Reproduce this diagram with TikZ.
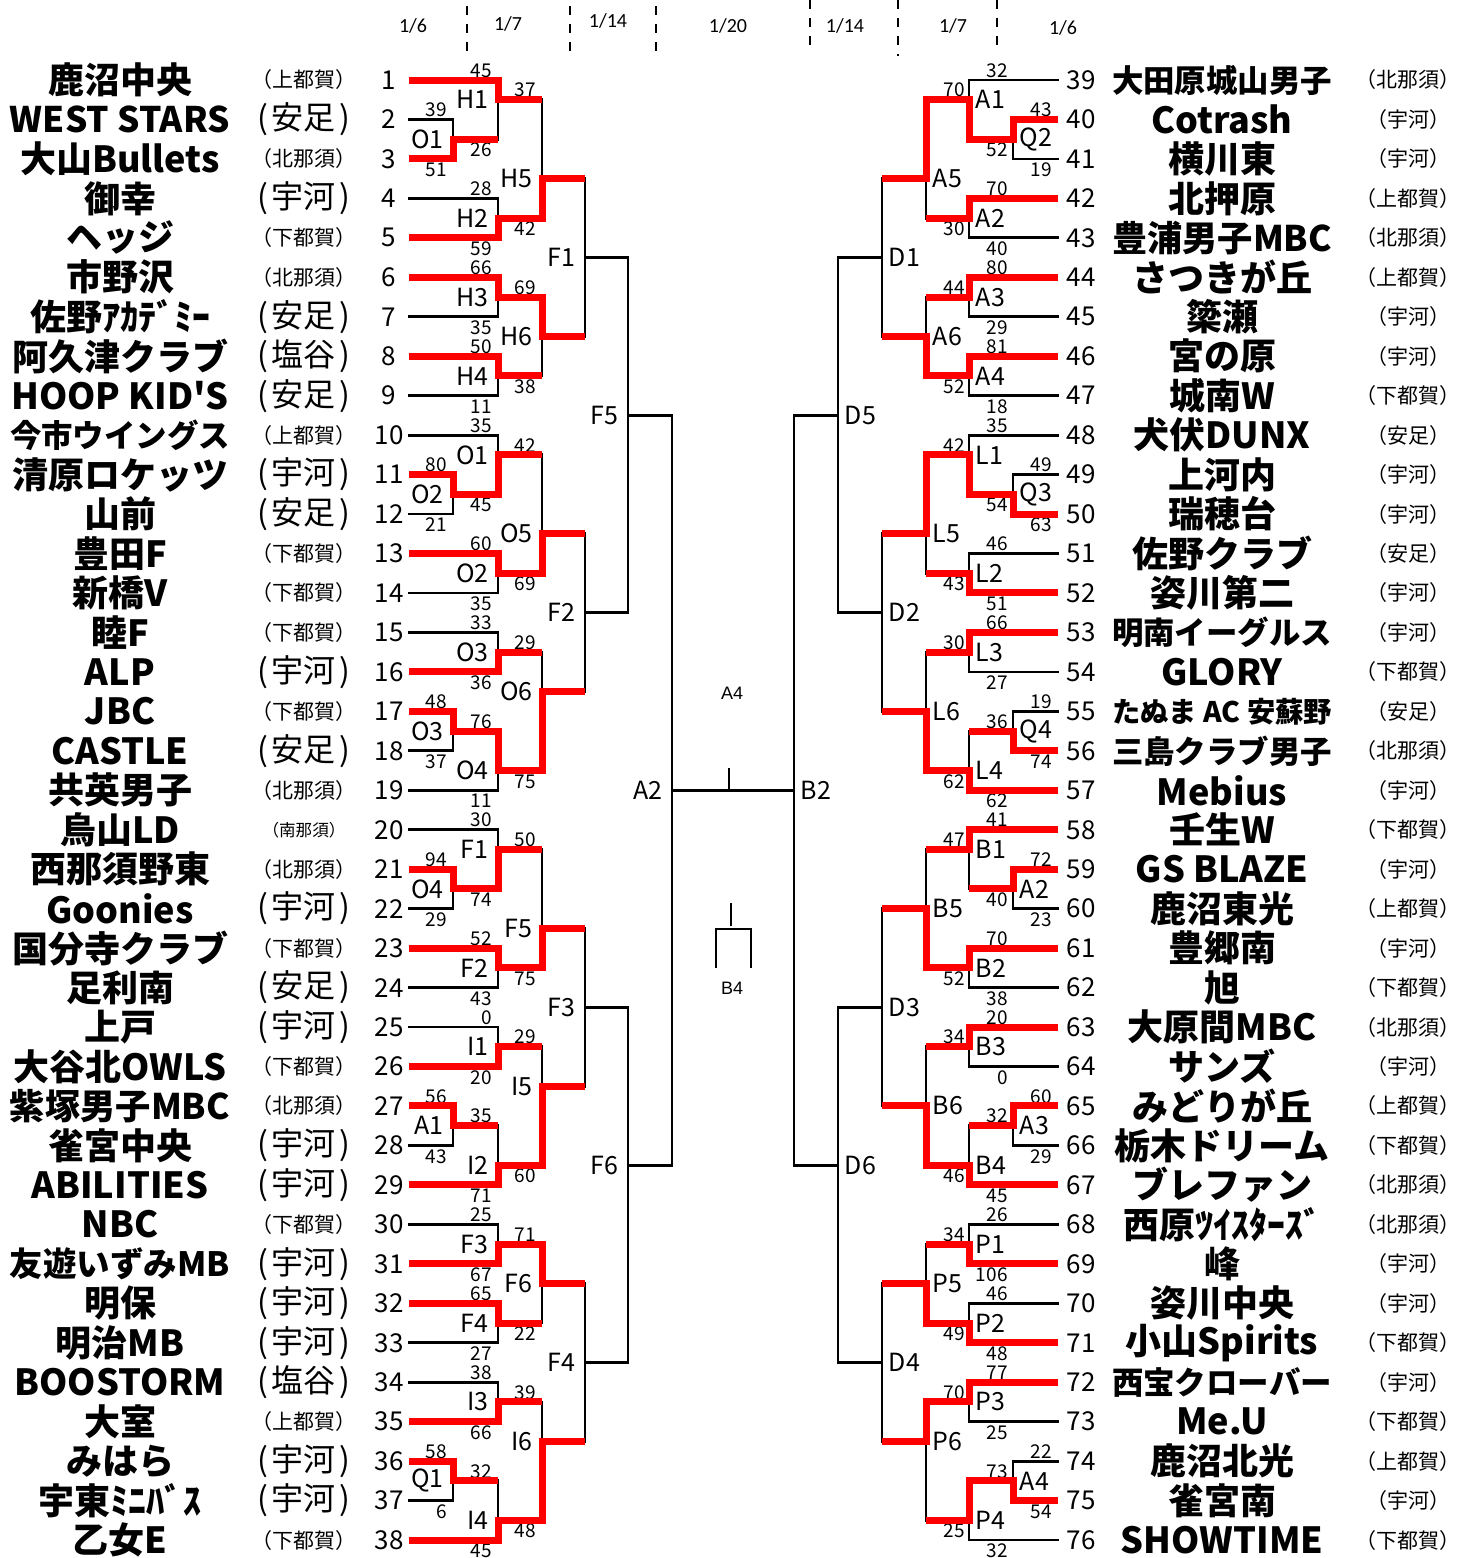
\documentclass[tikz,border=0pt]{standalone}
\usepackage{fontspec}
\usepackage{graphicx}
\setmainfont{Noto Sans CJK JP}[Ligatures=TeXOff]
\newfontfamily\hdrfont{Carlito}
\newfontfamily\arialfont{Liberation Sans}

\pgfdeclarelayer{win}
\pgfsetlayers{main,win}

\tikzset{
	bline/.style={line width=1.4pt, line cap=rect},
	winline/.style={line width=3.5pt, red, line join=miter},
	tname/.style={font=\bfseries\fontsize{18}{18}\selectfont, inner sep=0pt},
	rsmall/.style={font=\fontsize{10.5}{10.5}\selectfont, inner sep=0pt},
	rlarge/.style={font=\fontsize{16}{16}\selectfont, inner sep=0pt},
	rtiny/.style={font=\fontsize{8.3}{8.3}\selectfont, inner sep=0pt},
	tnum/.style={font=\fontsize{13}{13}\selectfont, inner sep=0pt},
	mlab/.style={font=\fontsize{12.5}{12.5}\selectfont, inner sep=0pt},
	score/.style={font=\fontsize{9.5}{9.5}\selectfont, inner sep=0pt},
	hdr/.style={font=\hdrfont\fontsize{10}{10}\selectfont, inner sep=0pt},
	clab/.style={font=\arialfont\fontsize{9}{9}\selectfont, inner sep=0pt},
	stage/.style={line width=1pt, dash pattern=on 4.5pt off 4.5pt},
	tickline/.style={line width=0.7pt},
}

\newsavebox\namebox
\newcommand{\fitname}[1]{\sbox\namebox{#1}\ifdim\wd\namebox>110pt\resizebox{110pt}{!}{\usebox\namebox}\else\usebox\namebox\fi}
\newcommand{\pl}[1]{(\kern.12em#1\kern.12em)}

% left team: number, name, region, region style, end x, w/l
\newcommand{\LT}[6]{
	\node[tname] (n#1) at (120,{2*(#1-1)}) {\fitname{#2}};
	\node[#4] (r#1) at (304,{2*(#1-1)}) {#3};
	\node[tnum] (k#1) at (389,{2*(#1-1)}) {#1};
	\coordinate (s#1) at (409,{2*(#1-1)});
	\coordinate (e#1) at (#5,{2*(#1-1)});
	\if#6w\begin{pgfonlayer}{win}\draw[winline] (s#1) -- (e#1);\end{pgfonlayer}\else\draw[bline] (s#1) -- (e#1);\fi
}
% right team: number, name, region, start x, w/l
\newcommand{\RT}[5]{
	\node[tname] (n#1) at (1222,{2*(#1-39)}) {\fitname{#2}};
	\node[rsmall] (r#1) at (1408,{2*(#1-39)}) {#3};
	\node[tnum] (k#1) at (1081,{2*(#1-39)}) {#1};
	\coordinate (s#1) at (#4,{2*(#1-39)});
	\coordinate (e#1) at (1058,{2*(#1-39)});
	\if#5w\begin{pgfonlayer}{win}\draw[winline] (s#1) -- (e#1);\end{pgfonlayer}\else\draw[bline] (s#1) -- (e#1);\fi
}
% match: label, v, v2, top, bottom, out, winner t/b/n, top score, bottom score
\newcommand{\ML}[9]{
	\coordinate (mt-#2-#6) at (#2,#4);
	\coordinate (mb-#2-#6) at (#2,#5);
	\coordinate (mo-#2-#6) at (#2,#6);
	\coordinate (mx-#2-#6) at (#3,#6);
	\draw[bline] (mt-#2-#6) -- (mb-#2-#6);
	\if#7n\draw[bline] (mo-#2-#6) -- (mx-#2-#6);\else
	\begin{pgfonlayer}{win}
	\if#7t\draw[winline] ([xshift=-5pt]mt-#2-#6) -- (mt-#2-#6) -- (mo-#2-#6) -- (mx-#2-#6);
	\else\draw[winline] ([xshift=-5pt]mb-#2-#6) -- (mb-#2-#6) -- (mo-#2-#6) -- (mx-#2-#6);\fi
	\end{pgfonlayer}\fi
	\node[mlab, anchor=east] (ml-#2-#6) at ([xshift=-4.5pt]mo-#2-#6) {#1};
	\node[score, anchor=east] (st-#2-#6) at ([xshift=-3pt, yshift=4.8pt]mt-#2-#6) {#8};
	\node[score, anchor=east] (sb-#2-#6) at ([xshift=-3pt, yshift=-5.4pt]mb-#2-#6) {#9};
}
\newcommand{\MR}[9]{
	\coordinate (mt-#2-#6) at (#2,#4);
	\coordinate (mb-#2-#6) at (#2,#5);
	\coordinate (mo-#2-#6) at (#2,#6);
	\coordinate (mx-#2-#6) at (#3,#6);
	\draw[bline] (mt-#2-#6) -- (mb-#2-#6);
	\if#7n\draw[bline] (mo-#2-#6) -- (mx-#2-#6);\else
	\begin{pgfonlayer}{win}
	\if#7t\draw[winline] ([xshift=5pt]mt-#2-#6) -- (mt-#2-#6) -- (mo-#2-#6) -- (mx-#2-#6);
	\else\draw[winline] ([xshift=5pt]mb-#2-#6) -- (mb-#2-#6) -- (mo-#2-#6) -- (mx-#2-#6);\fi
	\end{pgfonlayer}\fi
	\node[mlab, anchor=west] (ml-#2-#6) at ([xshift=3.2pt]mo-#2-#6) {#1};
	\node[score, anchor=east] (st-#2-#6) at ([xshift=19.5pt, yshift=4.8pt]mt-#2-#6) {#8};
	\node[score, anchor=east] (sb-#2-#6) at ([xshift=19.5pt, yshift=-5.4pt]mb-#2-#6) {#9};
}

\begin{document}
\begin{tikzpicture}[x=0.5pt, y=-9.865pt]
	\useasboundingbox (0,-4.0547) rectangle (1475,74.911);

	\node[hdr] (d1) at (413,-2.74) {1/6};
	\node[hdr] (d2) at (508,-2.84) {1/7};
	\node[hdr] (d3) at (608,-2.99) {1/14};
	\node[hdr] (d4) at (728,-2.74) {1/20};
	\node[hdr] (d5) at (845,-2.74) {1/14};
	\node[hdr] (d6) at (953,-2.74) {1/7};
	\node[hdr] (d7) at (1063,-2.64) {1/6};
	\draw[stage] (467,-3.75) -- (467,-1.22);
	\draw[stage] (570,-3.75) -- (570,-1.22);
	\draw[stage] (656,-3.75) -- (656,-1.22);
	\draw[stage] (810,-4.05) -- (810,-1.52);
	\draw[stage] (898,-4.05) -- (898,-1.22);
	\draw[stage] (997,-4.05) -- (997,-1.52);

	\LT{1}{鹿沼中央}{（上都賀）}{rsmall}{498}{w}
	\LT{2}{WEST STARS}{\pl{安足}}{rlarge}{453}{l}
	\LT{3}{大山Bullets}{（北那須）}{rsmall}{453}{w}
	\LT{4}{御幸}{\pl{宇河}}{rlarge}{498}{l}
	\LT{5}{ヘッジ}{（下都賀）}{rsmall}{498}{w}
	\LT{6}{市野沢}{（北那須）}{rsmall}{498}{w}
	\LT{7}{佐野ｱｶﾃﾞﾐｰ}{\pl{安足}}{rlarge}{498}{l}
	\LT{8}{阿久津クラブ}{\pl{塩谷}}{rlarge}{498}{w}
	\LT{9}{HOOP KID'S}{\pl{安足}}{rlarge}{498}{l}
	\LT{10}{今市ウイングス}{（上都賀）}{rsmall}{498}{l}
	\LT{11}{清原ロケッツ}{\pl{宇河}}{rlarge}{453}{w}
	\LT{12}{山前}{\pl{安足}}{rlarge}{453}{l}
	\LT{13}{豊田F}{（下都賀）}{rsmall}{498}{w}
	\LT{14}{新橋V}{（下都賀）}{rsmall}{498}{l}
	\LT{15}{睦F}{（下都賀）}{rsmall}{498}{l}
	\LT{16}{ALP}{\pl{宇河}}{rlarge}{498}{w}
	\LT{17}{JBC}{（下都賀）}{rsmall}{453}{w}
	\LT{18}{CASTLE}{\pl{安足}}{rlarge}{453}{l}
	\LT{19}{共英男子}{（北那須）}{rsmall}{498}{l}
	\LT{20}{烏山LD}{（南那須）}{rtiny}{498}{l}
	\LT{21}{西那須野東}{（北那須）}{rsmall}{453}{w}
	\LT{22}{Goonies}{\pl{宇河}}{rlarge}{453}{l}
	\LT{23}{国分寺クラブ}{（下都賀）}{rsmall}{498}{w}
	\LT{24}{足利南}{\pl{安足}}{rlarge}{498}{l}
	\LT{25}{上戸}{\pl{宇河}}{rlarge}{498}{l}
	\LT{26}{大谷北OWLS}{（下都賀）}{rsmall}{498}{w}
	\LT{27}{紫塚男子MBC}{（北那須）}{rsmall}{453}{w}
	\LT{28}{雀宮中央}{\pl{宇河}}{rlarge}{453}{l}
	\LT{29}{ABILITIES}{\pl{宇河}}{rlarge}{498}{w}
	\LT{30}{NBC}{（下都賀）}{rsmall}{498}{l}
	\LT{31}{友遊いずみMB}{\pl{宇河}}{rlarge}{498}{w}
	\LT{32}{明保}{\pl{宇河}}{rlarge}{498}{w}
	\LT{33}{明治MB}{\pl{宇河}}{rlarge}{498}{l}
	\LT{34}{BOOSTORM}{\pl{塩谷}}{rlarge}{498}{l}
	\LT{35}{大室}{（上都賀）}{rsmall}{498}{w}
	\LT{36}{みはら}{\pl{宇河}}{rlarge}{453}{w}
	\LT{37}{宇東ﾐﾆﾊﾞｽ}{\pl{宇河}}{rlarge}{453}{l}
	\LT{38}{乙女E}{（下都賀）}{rsmall}{498}{w}

	\RT{39}{大田原城山男子}{（北那須）}{969}{l}
	\RT{40}{Cotrash}{（宇河）}{1013}{w}
	\RT{41}{横川東}{（宇河）}{1013}{l}
	\RT{42}{北押原}{（上都賀）}{969}{w}
	\RT{43}{豊浦男子MBC}{（北那須）}{969}{l}
	\RT{44}{さつきが丘}{（上都賀）}{969}{w}
	\RT{45}{簗瀬}{（宇河）}{969}{l}
	\RT{46}{宮の原}{（宇河）}{969}{w}
	\RT{47}{城南W}{（下都賀）}{969}{l}
	\RT{48}{犬伏DUNX}{（安足）}{969}{l}
	\RT{49}{上河内}{（宇河）}{1013}{l}
	\RT{50}{瑞穂台}{（宇河）}{1013}{w}
	\RT{51}{佐野クラブ}{（安足）}{969}{l}
	\RT{52}{姿川第二}{（宇河）}{969}{w}
	\RT{53}{明南イーグルス}{（宇河）}{969}{w}
	\RT{54}{GLORY}{（下都賀）}{969}{l}
	\RT{55}{たぬま AC 安蘇野}{（安足）}{1013}{l}
	\RT{56}{三島クラブ男子}{（北那須）}{1013}{w}
	\RT{57}{Mebius}{（宇河）}{969}{w}
	\RT{58}{壬生W}{（下都賀）}{969}{w}
	\RT{59}{GS BLAZE}{（宇河）}{1013}{w}
	\RT{60}{鹿沼東光}{（上都賀）}{1013}{l}
	\RT{61}{豊郷南}{（宇河）}{969}{w}
	\RT{62}{旭}{（下都賀）}{969}{l}
	\RT{63}{大原間MBC}{（北那須）}{969}{w}
	\RT{64}{サンズ}{（宇河）}{969}{l}
	\RT{65}{みどりが丘}{（上都賀）}{1013}{w}
	\RT{66}{栃木ドリーム}{（下都賀）}{1013}{l}
	\RT{67}{ブレファン}{（北那須）}{969}{w}
	\RT{68}{西原ﾂｲｽﾀｰｽﾞ}{（北那須）}{969}{l}
	\RT{69}{峰}{（宇河）}{969}{w}
	\RT{70}{姿川中央}{（宇河）}{969}{l}
	\RT{71}{小山Spirits}{（下都賀）}{969}{w}
	\RT{72}{西宝クローバー}{（宇河）}{969}{w}
	\RT{73}{Me.U}{（下都賀）}{969}{l}
	\RT{74}{鹿沼北光}{（上都賀）}{1013}{l}
	\RT{75}{雀宮南}{（宇河）}{1013}{w}
	\RT{76}{SHOWTIME}{（下都賀）}{969}{l}

	\ML{O1}{453}{498}{2}{4}{3}{b}{39}{51}
	\ML{O2}{453}{498}{20}{22}{21}{t}{80}{21}
	\ML{O3}{453}{498}{32}{34}{33}{t}{48}{37}
	\ML{O4}{453}{498}{40}{42}{41}{t}{94}{29}
	\ML{A1}{453}{498}{52}{54}{53}{t}{56}{43}
	\ML{Q1}{453}{498}{70}{72}{71}{t}{58}{6}
	\ML{H1}{498}{542}{0}{3}{1}{t}{45}{26}
	\ML{H2}{498}{542}{6}{8}{7}{b}{28}{59}
	\ML{H3}{498}{542}{10}{12}{11}{t}{66}{35}
	\ML{H4}{498}{542}{14}{16}{15}{t}{50}{11}
	\ML{O1}{498}{542}{18}{21}{19}{b}{35}{45}
	\ML{O2}{498}{542}{24}{26}{25}{t}{60}{35}
	\ML{O3}{498}{542}{28}{30}{29}{b}{33}{36}
	\ML{O4}{498}{542}{33}{36}{35}{t}{76}{11}
	\ML{F1}{498}{542}{38}{41}{39}{b}{30}{74}
	\ML{F2}{498}{542}{44}{46}{45}{t}{52}{43}
	\ML{I1}{498}{542}{48}{50}{49}{b}{0}{20}
	\ML{I2}{498}{542}{53}{56}{55}{b}{35}{71}
	\ML{F3}{498}{542}{58}{60}{59}{b}{25}{67}
	\ML{F4}{498}{542}{62}{64}{63}{t}{65}{27}
	\ML{I3}{498}{542}{66}{68}{67}{b}{38}{66}
	\ML{I4}{498}{542}{71}{74}{73}{b}{32}{45}
	\ML{H5}{542}{585}{1}{7}{5}{b}{37}{42}
	\ML{H6}{542}{585}{11}{15}{13}{t}{69}{38}
	\ML{O5}{542}{585}{19}{25}{23}{b}{42}{69}
	\ML{O6}{542}{585}{29}{35}{31}{b}{29}{75}
	\ML{F5}{542}{585}{39}{45}{43}{b}{50}{75}
	\ML{I5}{542}{585}{49}{55}{51}{b}{29}{60}
	\ML{F6}{542}{585}{59}{63}{61}{t}{71}{22}
	\ML{I6}{542}{585}{67}{73}{69}{b}{39}{48}
	\ML{F1}{585}{628}{5}{13}{9}{n}{}{}
	\ML{F2}{585}{628}{23}{31}{27}{n}{}{}
	\ML{F3}{585}{628}{43}{51}{47}{n}{}{}
	\ML{F4}{585}{628}{61}{69}{65}{n}{}{}
	\ML{F5}{628}{672}{9}{27}{17}{n}{}{}
	\ML{F6}{628}{672}{47}{65}{55}{n}{}{}
	\ML{A2}{672}{794}{17}{55}{36}{n}{}{}

	\MR{Q2}{1013}{969}{2}{4}{3}{t}{43}{19}
	\MR{Q3}{1013}{969}{20}{22}{21}{b}{49}{63}
	\MR{Q4}{1013}{969}{32}{34}{33}{b}{19}{74}
	\MR{A2}{1013}{969}{40}{42}{41}{t}{72}{23}
	\MR{A3}{1013}{969}{52}{54}{53}{t}{60}{29}
	\MR{A4}{1013}{969}{70}{72}{71}{b}{22}{54}
	\MR{A1}{969}{926}{0}{3}{1}{b}{32}{52}
	\MR{A2}{969}{926}{6}{8}{7}{t}{70}{40}
	\MR{A3}{969}{926}{10}{12}{11}{t}{80}{29}
	\MR{A4}{969}{926}{14}{16}{15}{t}{81}{18}
	\MR{L1}{969}{926}{18}{21}{19}{b}{35}{54}
	\MR{L2}{969}{926}{24}{26}{25}{b}{46}{51}
	\MR{L3}{969}{926}{28}{30}{29}{t}{66}{27}
	\MR{L4}{969}{926}{33}{36}{35}{b}{36}{62}
	\MR{B1}{969}{926}{38}{41}{39}{t}{41}{40}
	\MR{B2}{969}{926}{44}{46}{45}{t}{70}{38}
	\MR{B3}{969}{926}{48}{50}{49}{t}{20}{0}
	\MR{B4}{969}{926}{53}{56}{55}{b}{32}{45}
	\MR{P1}{969}{926}{58}{60}{59}{b}{26}{106}
	\MR{P2}{969}{926}{62}{64}{63}{b}{46}{48}
	\MR{P3}{969}{926}{66}{68}{67}{t}{77}{25}
	\MR{P4}{969}{926}{71}{74}{73}{t}{73}{32}
	\MR{A5}{926}{882}{1}{7}{5}{t}{70}{30}
	\MR{A6}{926}{882}{11}{15}{13}{b}{44}{52}
	\MR{L5}{926}{882}{19}{25}{23}{t}{42}{43}
	\MR{L6}{926}{882}{29}{35}{32}{b}{30}{62}
	\MR{B5}{926}{882}{39}{45}{42}{b}{47}{52}
	\MR{B6}{926}{882}{49}{55}{52}{b}{34}{46}
	\MR{P5}{926}{882}{59}{63}{61}{b}{34}{49}
	\MR{P6}{926}{882}{67}{73}{69}{t}{70}{25}
	\MR{D1}{882}{838}{5}{13}{9}{n}{}{}
	\MR{D2}{882}{838}{23}{32}{27}{n}{}{}
	\MR{D3}{882}{838}{42}{52}{47}{n}{}{}
	\MR{D4}{882}{838}{61}{69}{65}{n}{}{}
	\MR{D5}{838}{794}{9}{27}{17}{n}{}{}
	\MR{D6}{838}{794}{47}{65}{55}{n}{}{}
	\MR{B2}{794}{672}{17}{55}{36}{n}{}{}

	\node[clab] (a4) at (732,31.07) {A4};
	\node[clab] (b4) at (732,46.02) {B4};
	\coordinate (ta) at (729,34.87);
	\coordinate (tb) at (729,36);
	\coordinate (tc) at (731,41.71);
	\coordinate (td) at (731,42.88);
	\draw[tickline] (ta) -- (tb);
	\draw[tickline] (tc) -- (td);
	\coordinate (ba) at (716,45.01);
	\coordinate (bb) at (716,43.03);
	\coordinate (bc) at (751,43.03);
	\coordinate (bd) at (751,45.01);
	\draw[bline, line cap=butt] (ba) -- (bb) -- (bc) -- (bd);
\end{tikzpicture}
\end{document}
